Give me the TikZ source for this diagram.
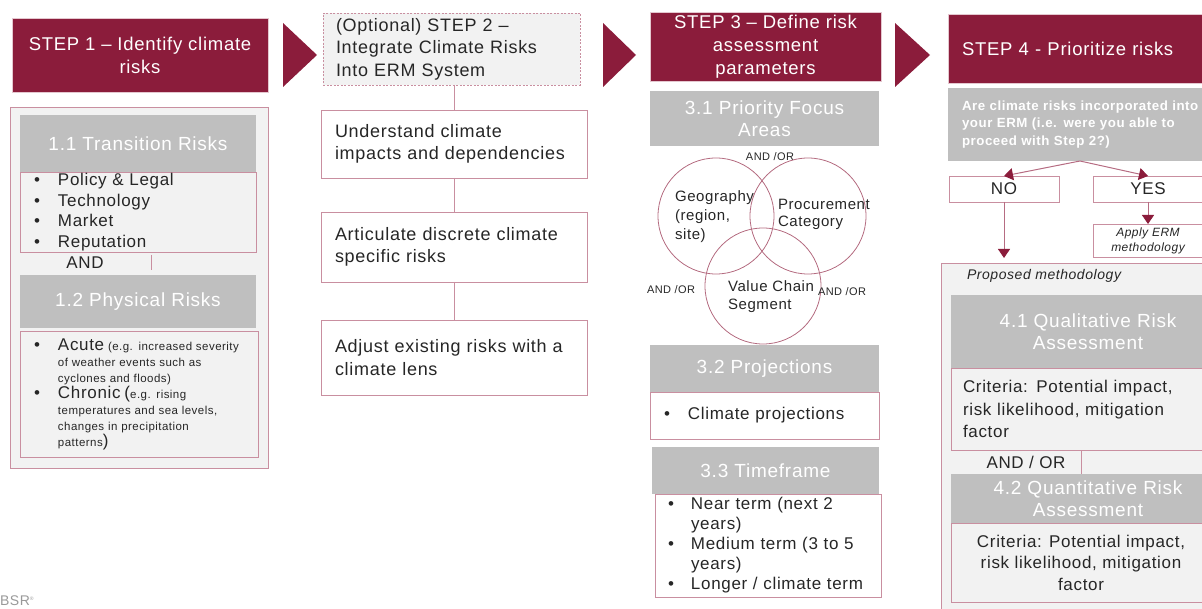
\documentclass[tikz,border=0pt]{standalone}
\usepackage{fontspec}
\setmainfont{Liberation Sans}[LetterSpace=4]
\usetikzlibrary{positioning, arrows.meta}

\definecolor{bsrred}{HTML}{8B1C3B}
\definecolor{headgray}{HTML}{BFBFBF}
\definecolor{panelgray}{HTML}{F2F2F2}
\definecolor{rosepink}{HTML}{C98FA0}
\definecolor{inkgray}{HTML}{262626}

\newcommand{\fs}[2]{\fontsize{#1}{#2}\selectfont}
\newcommand{\bul}{\makebox[24pt][l]{\fs{17}{16}\textbullet}}

\begin{document}
\begin{tikzpicture}[x=1pt, y=-1pt,
  every node/.style={inner sep=0pt, outer sep=0pt},
  stephead/.style={fill=bsrred, draw=rosepink!50, text=white, anchor=north west, font=\fs{18.5}{23}},
  subhead/.style={fill=headgray, text=white, anchor=north west, font=\fs{19}{22.5}, align=center},
  listbox/.style={draw=rosepink, anchor=north west, text=inkgray, font=\fs{17}{20.5}, align=left},
  flowbox/.style={draw=rosepink, fill=white, anchor=north west, text=inkgray, font=\fs{18}{22.5}, align=left},
  chevron/.style={fill=bsrred},
  link/.style={draw=rosepink, line width=1pt},
  flow/.style={draw=rosepink!70!bsrred, line width=1pt, -{Triangle[width=12pt, length=9pt, color=bsrred]}},
  note/.style={text=inkgray, font=\fs{11}{13}},
  ring/.style={draw=bsrred!65, line width=0.8pt, circle, minimum size=116pt},
]
  \useasboundingbox (0,0) rectangle (1202,609);

  % Step 1
  \node[stephead, minimum width=256pt, minimum height=74pt, align=center] (s1) at (12,18) {STEP 1 – Identify climate\\risks};
  \fill[chevron] (283,23) -- (317,55) -- (283,87) -- cycle;
  \node[draw=rosepink, fill=panelgray, anchor=north west, minimum width=258pt, minimum height=361pt] (s1panel) at (10,107) {};
  \node[subhead, minimum width=236pt, minimum height=57pt] (trans) at (20,115) {1.1 Transition Risks};
  \node[listbox, minimum width=236pt, minimum height=80pt, text width=208pt] (translist) at (20,172)
    {\bul Policy \& Legal\\ \bul Technology\\ \bul Market\\ \bul Reputation};
  \node[text=inkgray, font=\fs{17}{20}] (and1) at (85,263) {AND};
  \node[subhead, minimum width=236pt, minimum height=53pt] (phys) at (20,275) {1.2 Physical Risks};
  \draw[link] ([xshift=13pt, yshift=-3pt]translist.south) -- ([xshift=13pt, yshift=5pt]phys.north);
  \node[listbox, minimum width=238pt, minimum height=126pt, text width=210pt, font=\fs{11.5}{16}] (physlist) at (20,331)
    {\bul{\fs{17}{16}Acute} (e.g. increased severity\\
     \hspace*{24pt}of weather events such as\\
     \hspace*{24pt}cyclones and floods)\\
     \bul{\fs{17}{16}Chronic (}e.g. rising\\
     \hspace*{24pt}temperatures and sea levels,\\
     \hspace*{24pt}changes in precipitation\\
     \hspace*{24pt}patterns{\fs{17}{16})}};

  % Step 2
  \node[flowbox, fill=panelgray, dash pattern=on 2pt off 1.5pt, minimum width=257pt, minimum height=72pt, text width=231pt] (s2) at (323,13)
    {(Optional) STEP 2 –\\Integrate Climate Risks\\Into ERM System};
  \node[flowbox, minimum width=266pt, minimum height=68pt, text width=238pt] (impacts) at (321,110)
    {Understand climate\\impacts and dependencies};
  \node[flowbox, minimum width=266pt, minimum height=70pt, text width=238pt] (discrete) at (321,212)
    {Articulate discrete climate\\specific risks};
  \node[flowbox, minimum width=266pt, minimum height=75pt, text width=238pt] (lens) at (321,320)
    {Adjust existing risks with a\\climate lens};
  \draw[link] (s2.south -| impacts.north) -- (impacts.north);
  \draw[link] (impacts) -- (discrete);
  \draw[link] (discrete) -- (lens);

  % Step 3
  \fill[chevron] (603,23) -- (636,55) -- (603,87) -- cycle;
  \node[stephead, minimum width=231pt, minimum height=69pt, align=center] (s3) at (650,12) {STEP 3 – Define risk\\assessment\\parameters};
  \node[subhead, minimum width=229pt, minimum height=55pt] (focus) at (650,91) {3.1 Priority Focus\\Areas};
  \node[note] (andor1) at (770,157) {AND /OR};
  \node[ring] (geo) at (716,216) {};
  \node[ring] (proc) at (808,216) {};
  \node[ring] (chain) at (763,286) {};
  \node[anchor=west, align=left, text=inkgray, font=\fs{15}{19}] (geotext) at (675,217) {Geography\\(region,\\site)};
  \node[anchor=west, align=left, text=inkgray, font=\fs{15}{17}] (proctext) at (778,214) {Procurement\\Category};
  \node[anchor=west, align=left, text=inkgray, font=\fs{15}{18}] (chaintext) at (728,297) {Value Chain\\Segment};
  \node[note, anchor=west] (andor2) at (647,290) {AND /OR};
  \node[note, anchor=west] (andor3) at (818,292) {AND /OR};

  \node[subhead, minimum width=229pt, minimum height=47pt] (proj) at (650,345) {3.2 Projections};
  \node[listbox, minimum width=229pt, minimum height=47pt, text width=201pt] (projlist) at (650,392) {\bul Climate projections};
  \node[subhead, minimum width=227pt, minimum height=47pt] (time) at (652,447) {3.3 Timeframe};
  \node[listbox, minimum width=226pt, minimum height=103pt, text width=200pt, font=\fs{17}{20}] (timelist) at (655,494)
    {\makebox[23pt][l]{\textbullet}Near term (next 2\\
     \hspace*{23pt}years)\\
     \makebox[23pt][l]{\textbullet}Medium term (3 to 5\\
     \hspace*{23pt}years)\\
     \makebox[23pt][l]{\textbullet}Longer / climate term};

  % Step 4
  \fill[chevron] (895,23) -- (930,55) -- (895,87) -- cycle;
  \node[stephead, minimum width=290pt, minimum height=69pt, text width=262pt, align=left] (s4) at (948,14) {STEP 4 - Prioritize risks};
  \node[subhead, align=left, minimum width=290pt, minimum height=73pt, text width=262pt, font=\bfseries\fs{13.3}{17.5}] (ask) at (948,88)
    {Are climate risks incorporated into\\your ERM (i.e. were you able to\\proceed with Step 2?)};
  \node[flowbox, align=center, font=\fs{17}{20}, minimum width=110pt, minimum height=26pt] (no) at (949,176) {NO};
  \node[flowbox, align=center, font=\fs{17}{20}, minimum width=110pt, minimum height=26pt] (yes) at (1093,176) {YES};
  \draw[flow] ([xshift=-13pt]ask.south) -- (no.north);
  \draw[flow] ([xshift=-13pt]ask.south) -- (yes.north);
  \node[flowbox, align=center, font=\itshape\fs{12}{15}, minimum width=110pt, minimum height=33pt] (erm) at (1093,224) {Apply ERM\\methodology};
  \draw[flow] (yes) -- (erm);
  \node[draw=rosepink, fill=panelgray, anchor=north west, minimum width=275pt, minimum height=360pt] (method) at (941,263) {};
  \draw[flow, shorten >=5pt] (no.south) -- (no.south |- method.north);
  \node[anchor=west, text=inkgray, font=\itshape\fs{14}{17}] (pmlabel) at (967,276) {Proposed methodology};
  \node[subhead, minimum width=274pt, minimum height=73pt] (qual) at (951,295) {4.1 Qualitative Risk\\Assessment};
  \node[listbox, minimum width=260pt, minimum height=82pt, text width=236pt, font=\fs{17}{22.5}] (crit1) at (951,368)
    {Criteria: Potential impact,\\risk likelihood, mitigation\\factor};
  \node[text=inkgray, font=\fs{17}{20}] (andor4) at (1026,462) {AND / OR};
  \node[subhead, minimum width=274pt, minimum height=49pt, font=\fs{19}{22}] (quant) at (951,474) {4.2 Quantitative Risk\\Assessment};
  \draw[link] (crit1.south) -- (crit1.south |- quant.north);
  \node[listbox, align=center, minimum width=260pt, minimum height=79pt, font=\fs{17}{21.5}] (crit2) at (951,523)
    {Criteria: Potential impact,\\risk likelihood, mitigation\\factor};

  % logo
  \node[anchor=west, text=black!40, font=\fs{14}{14}] (logo) at (0,601) {BSR\textsuperscript{\tiny ®}};
\end{tikzpicture}
\end{document}
